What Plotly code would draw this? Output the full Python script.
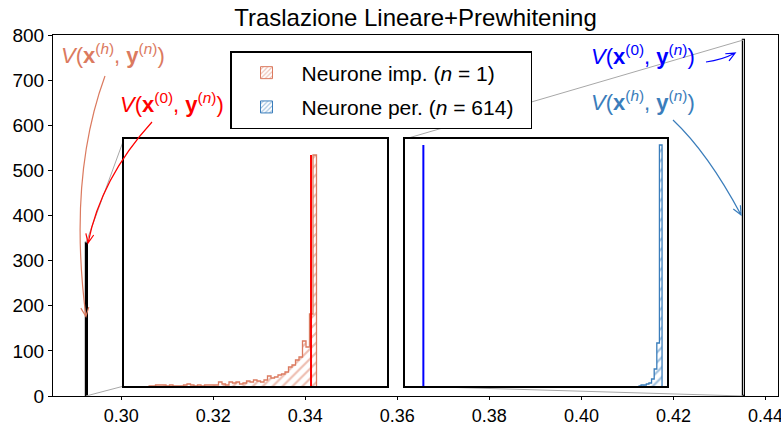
import plotly.graph_objects as go

# ---------------- data ----------------
# main axes: narrow histogram bars (left edge, right edge, height)
main_left_edges = [0.29234, 0.43520]
main_right_edges = [0.29275, 0.43556]
main_heights = [339, 789]
main_fill = ["black", "white"]

# inset 1: impostor neuron histogram
imp_bin_start = 0.292112
imp_bin_width = 0.000016
imp_counts = [0, 0, 1, 1, 1, 0, 1, 0, 0, 0, 1, 2, 1, 0, 1, 0, 1, 1, 1, 1,
              4, 2, 1, 4, 3, 4, 2, 3, 5, 4, 6, 5, 4, 6, 10, 8, 9, 11, 12, 14,
              19, 21, 26, 29, 45, 39, 72, 231]
imp_v0 = 0.292855          # V(x^(0), y^(n)) for the impostor neuron
imp_xlim = [0.29200, 0.29320]

# inset 2: 614 neurons histogram
per_bin_start = 0.43589
per_bin_width = 0.00001
per_counts = [0, 1, 1, 2, 3, 7, 17, 43, 241]
per_v0 = 0.43507
per_xlim = [0.43500, 0.43600]

inset_ylim = [0, 247]

x_ticks = [0.30, 0.32, 0.34, 0.36, 0.38, 0.40, 0.42, 0.44]
y_ticks = [0, 100, 200, 300, 400, 500, 600, 700, 800]
XR = [0.28518, 0.44272]
YR = [0, 800]

title = "Traslazione Lineare+Prewhitening"
leg_imp = "Neurone imp. (<i>n</i> = 1)"
leg_per = "Neurone per. (<i>n</i> = 614)&nbsp;&nbsp;"
lab_h = "<i>V</i>(<b>x</b><sup>(<i>h</i>)</sup>, <b>y</b><sup>(<i>n</i>)</sup>)"
lab_0 = "<i>V</i>(<b>x</b><sup>(0)</sup>, <b>y</b><sup>(<i>n</i>)</sup>)"

SALMON = "#DB7A5F"
RED = "#FF0000"
BLUE = "#0000FF"
STEEL = "#3A7DBB"
FONT = "Liberation Sans, Arial, sans-serif"
CLEAR = "rgba(0,0,0,0)"

# ---------------- geometry helpers ----------------
W, H = 781, 426
L, R, T, B = 53, 3, 35, 30
PW, PH = W - L - R, H - T - B


def px2paper(px, py):
    return ((px - L) / PW, (H - B - py) / PH)


def data2px(x, y):
    return (L + (x - XR[0]) / (XR[1] - XR[0]) * PW,
            H - B - (y - YR[0]) / (YR[1] - YR[0]) * PH)


def paper2data(u, v):
    return (XR[0] + u * (XR[1] - XR[0]), YR[0] + v * (YR[1] - YR[0]))


# inset domains (paper fractions of the plot area)
in1_x = [(124 - L) / PW, (386.5 - L) / PW]
in2_x = [(405 - L) / PW, (667.3 - L) / PW]
in_y = [(H - B - 386) / PH, (H - B - 139) / PH]

fig = go.Figure()

# ---- connector lines (mark_inset style) ----
cx, cy = [], []
for dom, edge, hgt in [(in1_x, main_left_edges[0], main_heights[0]),
                       (in2_x, main_left_edges[1], main_heights[1])]:
    tl = paper2data(dom[0], in_y[1])
    bl = paper2data(dom[0], in_y[0])
    cx += [tl[0], edge, None, bl[0], edge, None]
    cy += [tl[1], hgt, None, bl[1], 0, None]
fig.add_trace(go.Scatter(x=cx, y=cy, mode="lines", line=dict(color="#A8A8A8", width=1),
                         showlegend=False, hoverinfo="skip", xaxis="x", yaxis="y"))

# ---- main bars ----
fig.add_trace(go.Bar(
    x=[(a + b) / 2 for a, b in zip(main_left_edges, main_right_edges)],
    y=main_heights,
    width=[b - a for a, b in zip(main_left_edges, main_right_edges)],
    marker=dict(color=main_fill, line=dict(color="black", width=1.2)),
    showlegend=False, hoverinfo="skip", xaxis="x", yaxis="y"))


def hatch(color, size=7, solidity=0.3):
    return dict(shape="/", fgcolor=color, bgcolor=CLEAR, fillmode="overlay",
                size=size, solidity=solidity)


def hist_traces(start, width, counts, color, xa, ya):
    edges = [start + i * width for i in range(len(counts) + 1)]
    centers = [(edges[i] + edges[i + 1]) / 2 for i in range(len(counts))]
    bar = go.Bar(x=centers, y=counts, width=[width] * len(counts),
                 marker=dict(color=CLEAR, line=dict(width=0), pattern=hatch(color)),
                 showlegend=False, hoverinfo="skip", xaxis=xa, yaxis=ya)
    sx = [edges[0]] + edges[:-1] + [edges[-1]]
    sy = [0] + counts + [0]
    step = go.Scatter(x=sx, y=sy, mode="lines", line=dict(color=color, width=1.3, shape="hv"),
                      showlegend=False, hoverinfo="skip", xaxis=xa, yaxis=ya)
    return bar, step


b1, s1 = hist_traces(imp_bin_start, imp_bin_width, imp_counts, SALMON, "x2", "y2")
b2, s2 = hist_traces(per_bin_start, per_bin_width, per_counts, STEEL, "x3", "y3")
fig.add_traces([b1, s1, b2, s2])

fig.add_trace(go.Scatter(x=[imp_v0, imp_v0], y=[0, max(imp_counts)], mode="lines",
                         line=dict(color=RED, width=2), showlegend=False, hoverinfo="skip",
                         xaxis="x2", yaxis="y2"))
fig.add_trace(go.Scatter(x=[per_v0, per_v0], y=[0, max(per_counts)], mode="lines",
                         line=dict(color=BLUE, width=2), showlegend=False, hoverinfo="skip",
                         xaxis="x3", yaxis="y3"))

# legend proxies
for name, col, grp in [(leg_imp, SALMON, "a"), (leg_per, STEEL, "b")]:
    fig.add_trace(go.Bar(x=[None], y=[None], name=name, legendgroup=grp,
                         marker=dict(color=CLEAR, line=dict(color=col, width=1),
                                     pattern=hatch(col, size=4, solidity=0.35)),
                         xaxis="x", yaxis="y"))

# ---- curved arrows + labels ----
shapes = []
annotations = []


def curved_arrow(p0, c, p2, color):
    x0, y0 = px2paper(*p0)
    xc, yc = px2paper(*c)
    x2, y2 = px2paper(*p2)
    dx, dy = p2[0] - c[0], p2[1] - c[1]
    n = (dx * dx + dy * dy) ** 0.5
    ux, uy = dx / n, dy / n
    hl, hw = 9, 4
    b1p = (p2[0] - hl * ux + hw * uy, p2[1] - hl * uy - hw * ux)
    b2p = (p2[0] - hl * ux - hw * uy, p2[1] - hl * uy + hw * ux)
    a1 = px2paper(*b1p)
    a2 = px2paper(*b2p)
    path = (f"M {x0},{y0} Q {xc},{yc} {x2},{y2} "
            f"M {a1[0]},{a1[1]} L {x2},{y2} L {a2[0]},{a2[1]}")
    shapes.append(dict(type="path", path=path, xref="paper", yref="paper",
                       line=dict(color=color, width=1.2), layer="above"))


def label(text, px, py, color):
    u, v = px2paper(px, py)
    annotations.append(dict(text=text, x=u, y=v, xref="paper", yref="paper",
                            xanchor="center", yanchor="middle", showarrow=False,
                            font=dict(family=FONT, size=22, color=color)))


tip = data2px(main_left_edges[0], 176)
curved_arrow((105, 76), (68, 177), tip, SALMON)
label(lab_h, 113, 54, SALMON)
tip = data2px(main_left_edges[0] + 0.00045, main_heights[0])
curved_arrow((152, 122), (101, 178), tip, RED)
label(lab_0, 172, 103, RED)
tip = data2px(0.4334, 760)
curved_arrow((706, 62), (722, 60), tip, BLUE)
label(lab_0, 643, 55, BLUE)
tip = data2px(0.4347, 401)
curved_arrow((673, 120), (708, 153), tip, STEEL)
label(lab_h, 643, 101, STEEL)

inset_axis = dict(showline=True, mirror=True, linecolor="black", linewidth=2,
                  showticklabels=False, ticks="", showgrid=False, zeroline=False,
                  automargin=False)

fig.update_layout(
    width=W, height=H,
    margin=dict(l=L, r=R, t=T, b=B, autoexpand=False),
    paper_bgcolor="white", plot_bgcolor="white",
    barmode="overlay", bargap=0,
    font=dict(family=FONT, color="black"),
    title=dict(text=title, x=0.5, xref="paper", y=1 - 18 / H, yref="container",
               xanchor="center", yanchor="middle", font=dict(size=24, family=FONT)),
    xaxis=dict(range=XR, tickvals=x_ticks, ticktext=[f"{v:.2f}" for v in x_ticks],
               showline=True, mirror=True, linecolor="black", linewidth=1,
               ticks="outside", ticklen=3, tickcolor="black", showgrid=False, zeroline=False,
               tickfont=dict(size=18), domain=[0, 1], ticklabeloverflow="allow",
               automargin=False),
    yaxis=dict(range=YR, tickvals=y_ticks, showline=True, mirror=True, linecolor="black",
               linewidth=1, ticks="outside", ticklen=4, tickcolor="black", showgrid=False,
               zeroline=False, tickfont=dict(size=19), domain=[0, 1], automargin=False),
    xaxis2=dict(domain=in1_x, range=imp_xlim, anchor="y2", **inset_axis),
    yaxis2=dict(domain=in_y, range=inset_ylim, anchor="x2", **inset_axis),
    xaxis3=dict(domain=in2_x, range=per_xlim, anchor="y3", **inset_axis),
    yaxis3=dict(domain=in_y, range=inset_ylim, anchor="x3", **inset_axis),
    legend=dict(x=(230 - L) / PW, y=(H - B - 51) / PH, xanchor="left", yanchor="top",
                bgcolor="white", bordercolor="black", borderwidth=1.5,
                font=dict(size=21, family=FONT), itemwidth=60, tracegroupgap=4,
                traceorder="grouped"),
    shapes=shapes,
    annotations=annotations,
)

fig.write_html("out.html")
